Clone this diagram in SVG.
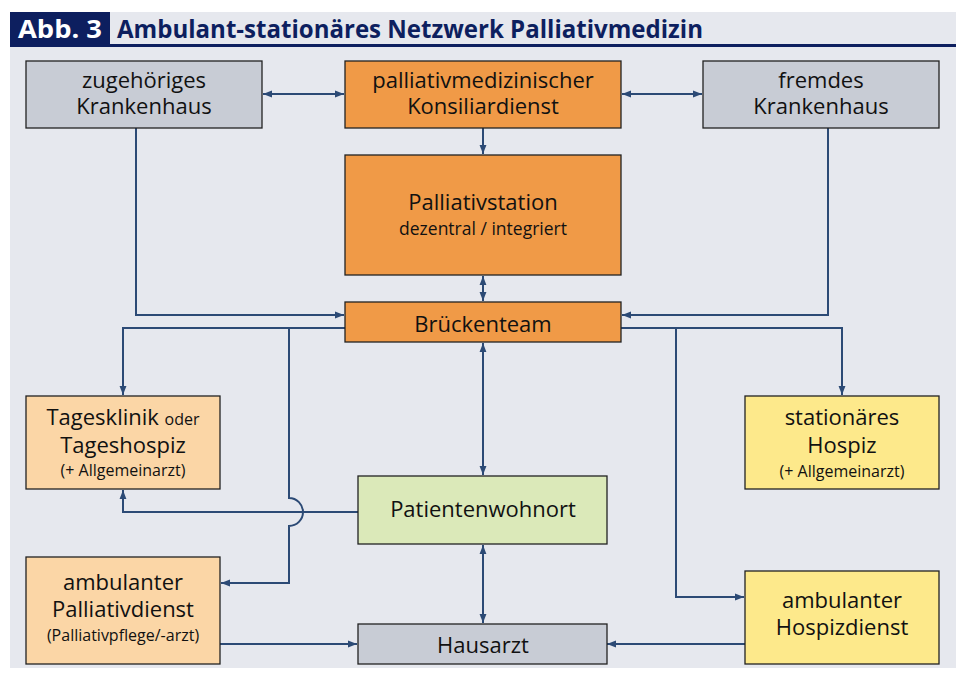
<svg xmlns="http://www.w3.org/2000/svg" width="962" height="673" viewBox="0 0 962 673">
<defs>
<marker id="ah" viewBox="0 0 10 10" refX="10" refY="5" markerWidth="9" markerHeight="9" orient="auto-start-reverse" markerUnits="userSpaceOnUse">
<path d="M0,1.2 L10,5 L0,8.8 z" fill="#2c4a75"/>
</marker>
<style>
.n{stroke:#222;stroke-width:1.3}
.g{fill:#c8ccd5}.o{fill:#f09a47}.lo{fill:#fbd6a6}.y{fill:#fde98b}.gr{fill:#dbe9b9}
.t{font-family:"Open Sans","Noto Sans",sans-serif;font-size:22px;fill:#111;text-anchor:middle}
.s{font-size:17.5px}
.od{font-size:16px}
.xs{font-size:16px}
.c{fill:none;stroke:#2c4a75;stroke-width:2}
</style>
</defs>
<rect x="0" y="0" width="962" height="673" fill="#ffffff"/>
<rect x="10" y="46" width="946" height="622" fill="#e6e8ee"/>
<g id="title">
<rect x="110" y="12" width="846" height="33" fill="#e6e8ee"/>
<rect x="10" y="12" width="100" height="34" fill="#0d1f5f"/>
<rect x="10" y="44" width="946" height="3" fill="#0d1f5f"/>
<text x="60" y="38" font-family="'Open Sans','Noto Sans',sans-serif" font-weight="bold" font-size="25" fill="#fff" text-anchor="middle" textLength="84" lengthAdjust="spacingAndGlyphs">Abb. 3</text>
<text x="117" y="38" font-family="'Open Sans','Noto Sans',sans-serif" font-weight="bold" font-size="25" fill="#0d1f5f" textLength="586" lengthAdjust="spacingAndGlyphs">Ambulant-stationäres Netzwerk Palliativmedizin</text>
</g>
<g id="connectors">
<line class="c" x1="263" y1="94" x2="344" y2="94" marker-start="url(#ah)" marker-end="url(#ah)"/>
<line class="c" x1="622" y1="94" x2="702" y2="94" marker-start="url(#ah)" marker-end="url(#ah)"/>
<line class="c" x1="483" y1="128" x2="483" y2="154" marker-end="url(#ah)"/>
<line class="c" x1="483" y1="276" x2="483" y2="301" marker-start="url(#ah)" marker-end="url(#ah)"/>
<polyline class="c" points="136,128 136,315 344,315" marker-end="url(#ah)"/>
<polyline class="c" points="828,128 828,315 622,315" marker-end="url(#ah)"/>
<polyline class="c" points="345,328 123,328 123,395" marker-end="url(#ah)"/>
<path class="c" d="M289,328 V498 A14,14 0 0 1 289,526 V583 H221" marker-end="url(#ah)"/>
<polyline class="c" points="620,328 842,328 842,395" marker-end="url(#ah)"/>
<polyline class="c" points="676,328 676,597 744,597" marker-end="url(#ah)"/>
<line class="c" x1="483" y1="343" x2="483" y2="475" marker-start="url(#ah)" marker-end="url(#ah)"/>
<polyline class="c" points="358,512 123,512 123,490" marker-end="url(#ah)"/>
<line class="c" x1="483" y1="545" x2="483" y2="623" marker-start="url(#ah)" marker-end="url(#ah)"/>
<line class="c" x1="220" y1="644" x2="357" y2="644" marker-end="url(#ah)"/>
<line class="c" x1="745" y1="644" x2="607" y2="644" marker-end="url(#ah)"/>
</g>
<g id="zugehoeriges-krankenhaus">
<rect class="n g" x="26" y="61" width="236" height="67"/>
<text class="t" x="144" y="88">zugehöriges</text>
<text class="t" x="144" y="114">Krankenhaus</text>
</g>
<g id="konsiliardienst">
<rect class="n o" x="345" y="61" width="276" height="67"/>
<text class="t" x="483" y="88">palliativmedizinischer</text>
<text class="t" x="483" y="114">Konsiliardienst</text>
</g>
<g id="fremdes-krankenhaus">
<rect class="n g" x="703" y="61" width="236" height="67"/>
<text class="t" x="821" y="88">fremdes</text>
<text class="t" x="821" y="114">Krankenhaus</text>
</g>
<g id="palliativstation">
<rect class="n o" x="345" y="155" width="276" height="120"/>
<text class="t" x="483" y="210">Palliativstation</text>
<text class="t s" x="483" y="235">dezentral / integriert</text>
</g>
<g id="brueckenteam">
<rect class="n o" x="345" y="302" width="276" height="40"/>
<text class="t" x="483" y="332">Brückenteam</text>
</g>
<g id="tagesklinik">
<rect class="n lo" x="26" y="396" width="194" height="93"/>
<text class="t" x="123" y="425">Tagesklinik <tspan class="od">oder</tspan></text>
<text class="t" x="123" y="453">Tageshospiz</text>
<text class="t xs" x="123" y="476">(+ Allgemeinarzt)</text>
</g>
<g id="stationaeres-hospiz">
<rect class="n y" x="745" y="396" width="194" height="93"/>
<text class="t" x="842" y="425">stationäres</text>
<text class="t" x="842" y="453">Hospiz</text>
<text class="t xs" x="842" y="477">(+ Allgemeinarzt)</text>
</g>
<g id="patientenwohnort">
<rect class="n gr" x="358" y="476" width="249" height="68"/>
<text class="t" x="483" y="517">Patientenwohnort</text>
</g>
<g id="ambulanter-palliativdienst">
<rect class="n lo" x="26" y="557" width="194" height="107"/>
<text class="t" x="123" y="590">ambulanter</text>
<text class="t" x="123" y="617">Palliativdienst</text>
<text class="t xs" x="123" y="641">(Palliativpflege/-arzt)</text>
</g>
<g id="hausarzt">
<rect class="n g" x="358" y="624" width="249" height="40"/>
<text class="t" x="483" y="653">Hausarzt</text>
</g>
<g id="ambulanter-hospizdienst">
<rect class="n y" x="745" y="571" width="194" height="93"/>
<text class="t" x="842" y="608">ambulanter</text>
<text class="t" x="842" y="635">Hospizdienst</text>
</g>
</svg>
